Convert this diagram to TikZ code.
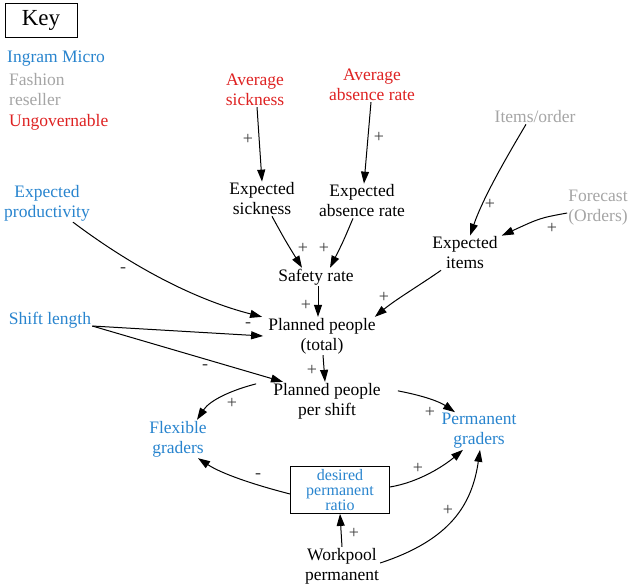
\documentclass[tikz,border=0pt]{standalone}
\usepackage{fontspec}
\setmainfont{Liberation Serif}
\usetikzlibrary{arrows.meta}
\definecolor{imblue}{RGB}{40,132,206}
\definecolor{ungred}{RGB}{222,34,34}
\definecolor{fashgray}{RGB}{165,165,165}
\definecolor{signgray}{RGB}{60,60,60}
\tikzset{
  var/.style={align=center, inner sep=1pt, font=\fontsize{17.5}{20}\selectfont, text=black},
  ingram/.style={var, text=imblue},
  ungov/.style={var, text=ungred},
  fashion/.style={var, text=fashgray},
  link/.style={draw=black, line width=1pt, -{Triangle[length=12pt,width=8pt]}},
  sign/.style={inner sep=0pt, font=\fontsize{18}{18}\selectfont, text=signgray},
}
\begin{document}
\begin{tikzpicture}[x=1pt,y=-1pt]
\path[use as bounding box] (0,0) rectangle (631,586);

% legend
\node[draw, line width=0.8pt, minimum width=72pt, minimum height=34pt, inner sep=0pt,
      font=\fontsize{23}{23}\selectfont] (key) at (41,20) {Key};
\node[ingram, anchor=west] (legim) at (6,59) {Ingram Micro};
\node[fashion, anchor=west, align=left] (legfash) at (8,89.5) {Fashion\\reseller};
\node[ungov, anchor=west] (legung) at (8,122) {Ungovernable};

% variables
\node[ungov] (avgsick) at (255,90) {Average\\sickness};
\node[ungov] (avgabs) at (372,85) {Average\\absence rate};
\node[var] (expsick) at (262,199) {Expected\\sickness};
\node[var] (expabs) at (362,201) {Expected\\absence rate};
\node[fashion] (items) at (535,117) {Items/order};
\node[fashion] (forecast) at (598,208) {Forecast\\(Orders)};
\node[var] (expitems) at (465,253) {Expected\\items};
\node[ingram] (expprod) at (47,203) {Expected\\productivity};
\node[var] (safety) at (316,277) {Safety rate};
\node[ingram] (shift) at (50,320) {Shift length};
\node[var] (ptotal) at (322,336) {Planned people\\(total)};
\node[var] (pshift) at (327,401) {Planned people\\per shift};
\node[ingram] (flex) at (178,439) {Flexible\\graders};
\node[ingram] (perm) at (479,431) {Permanent\\graders};
\node[ingram, draw=black, line width=0.8pt, minimum width=99pt, minimum height=47pt,
      font=\fontsize{16}{15}\selectfont] (ratio) at (340,490) {desired\\permanent\\ratio};
\node[var] (workpool) at (342,566) {Workpool\\permanent};

% causal links
\draw[link] ([xshift=2pt]avgsick.south) -- (expsick.north);
\draw[link] ([xshift=-1pt]avgabs.south) -- ([xshift=2pt]expabs.north);
\draw[link] ([xshift=10pt]expsick.south) .. controls (285,240) .. ([xshift=-14pt]safety.north);
\draw[link] ([xshift=-9pt]expabs.south) .. controls (343,242) .. ([xshift=14pt]safety.north);
\draw[link] ([xshift=-9pt]items.south) .. controls (506,158) and (483,198) .. ([xshift=5pt]expitems.north);
\draw[link] ([yshift=-5pt]forecast.west) .. controls (540,218) .. ([xshift=3pt]expitems.north east);
\draw[link] ([xshift=2pt]safety.south) -- ([xshift=-4pt]ptotal.north);
\draw[link] ([xshift=-24pt]expitems.south) .. controls (420,285) and (395,300) .. ([xshift=-2pt]ptotal.north east);
\draw[link] ([xshift=26pt]expprod.south) .. controls (138,271) and (200,301) .. ([xshift=-5pt]ptotal.north west);
\draw[link] ([yshift=-6pt]shift.east) -- ([xshift=-4pt]ptotal.west);
\draw[link] ([yshift=-6pt]shift.east) -- ([xshift=-44pt]pshift.north);
\draw[link] ([xshift=1pt]ptotal.south) -- ([xshift=-2pt]pshift.north);
\draw[link] ([xshift=-16pt,yshift=-2pt]pshift.north west) .. controls (232,390) and (210,400) .. ([xshift=19pt]flex.north);
\draw[link] ([xshift=16pt,yshift=-9pt]pshift.north east) .. controls (425,396) and (440,402) .. ([xshift=-24pt]perm.north);
\draw[link] ([yshift=-4pt]ratio.west) .. controls (255,485) and (222,474) .. ([xshift=20pt]flex.south);
\draw[link] ([yshift=3pt]ratio.east) .. controls (420,482) and (445,465) .. ([xshift=-16pt]perm.south);
\draw[link] (workpool.north) -- (ratio.south);
\draw[link] ([yshift=3pt]workpool.east) .. controls (450,540) and (472,505) .. ([xshift=1pt]perm.south);

% link polarities
\node[sign] (p1) at (248,139) {+};
\node[sign] (p2) at (379,137) {+};
\node[sign] (p3) at (303,248) {+};
\node[sign] (p4) at (324,248) {+};
\node[sign] (p5) at (490,204) {+};
\node[sign] (p6) at (552,228) {+};
\node[sign] (p7) at (306,305) {+};
\node[sign] (p8) at (384,297) {+};
\node[sign] (m9) at (123,270) {-};
\node[sign] (m10) at (248,325) {-};
\node[sign] (m11) at (205,367) {-};
\node[sign] (p12) at (312,370) {+};
\node[sign] (p13) at (232,403) {+};
\node[sign] (p14) at (430,412) {+};
\node[sign] (m15) at (258,476) {-};
\node[sign] (p16) at (418,468) {+};
\node[sign] (p17) at (354,533) {+};
\node[sign] (p18) at (448,510) {+};
\end{tikzpicture}
\end{document}
